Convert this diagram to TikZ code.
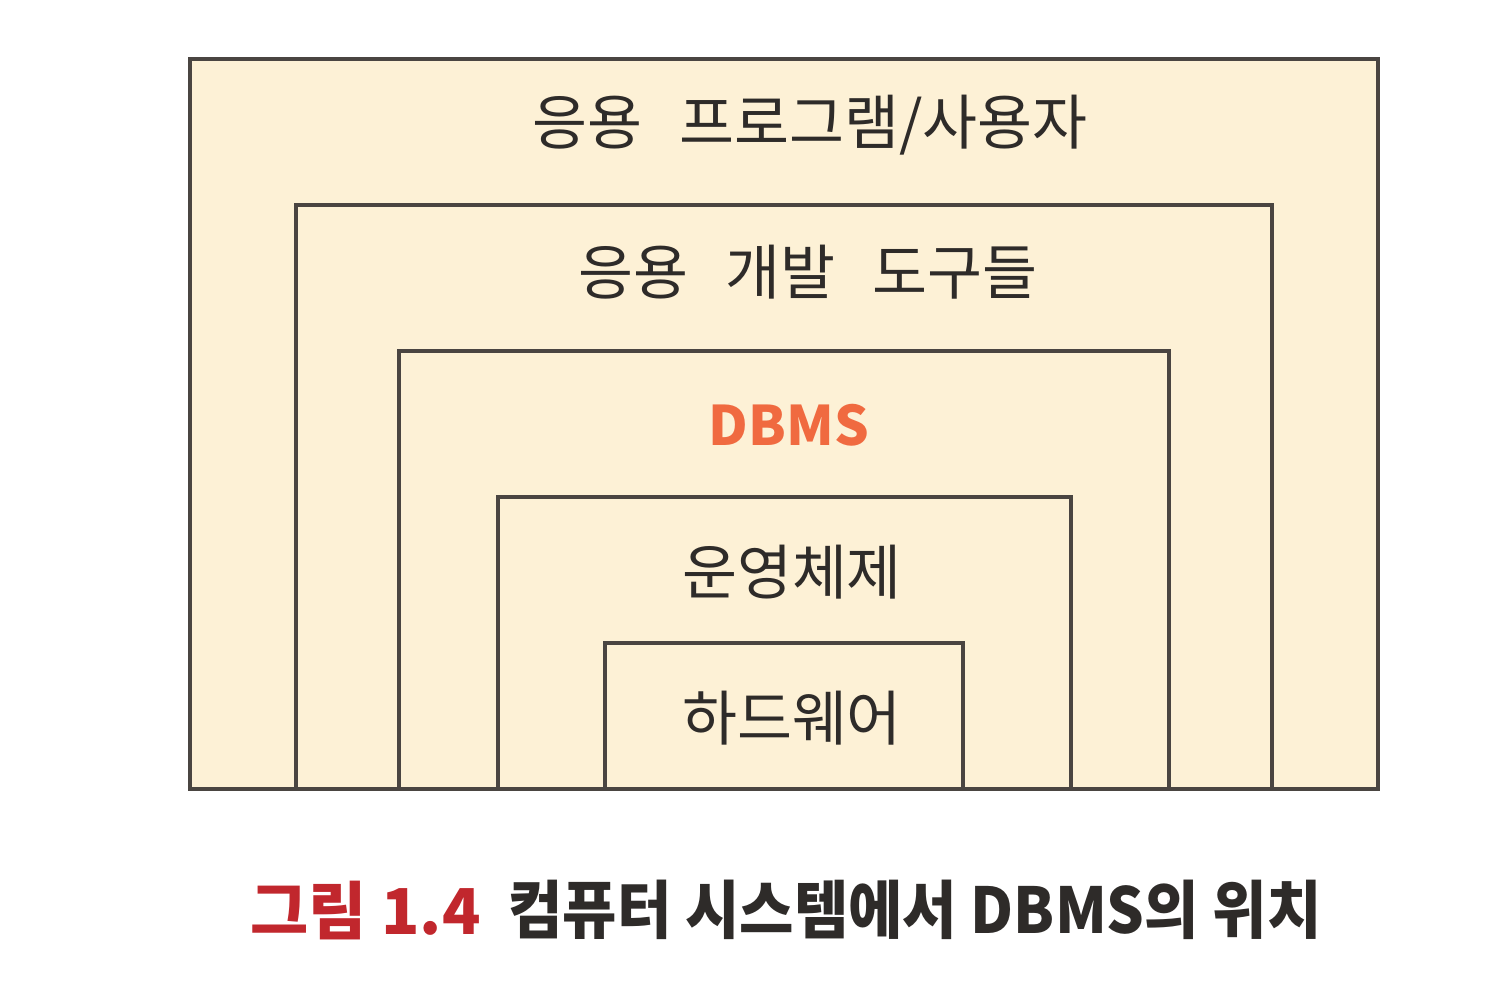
\documentclass[tikz,border=0pt]{standalone}
\usepackage{fontspec}
\newfontfamily\kr{Noto Sans CJK KR}
\newfontfamily\krcond[FakeStretch=0.935]{Noto Sans CJK KR}
\newcommand{\wgap}{\hspace{0.62em}}
\usepackage{xcolor}
\definecolor{lyfill}{HTML}{FDF1D6}
\definecolor{lyline}{HTML}{4A4541}
\definecolor{lyink}{HTML}{2E2B29}
\definecolor{lyorange}{HTML}{F06A40}
\definecolor{lyred}{HTML}{C1272D}
\usepackage{tikz}

\begin{document}
\begin{tikzpicture}[
      font=\kr,
      lay/.style={draw=lyline, line width=0.9pt},
      lbl/.style={font=\kr\fontsize{17}{20}\selectfont, text=lyink},
      captxt/.style={font=\kr\bfseries\fontsize{18}{21}\selectfont, anchor=west},
    ]
    \useasboundingbox (0,0) rectangle (15.02,9.8);

    % outer layer and the nested layers, all open at the bottom
    \fill[lyfill] (1.90,1.91) rectangle (13.78,9.21);
    \draw[lay] (1.90,1.91) rectangle (13.78,9.21);
    \draw[lay] (2.96,1.91) |- (12.72,7.75) -- (12.72,1.91);
    \draw[lay] (3.99,1.91) |- (11.69,6.29) -- (11.69,1.91);
    \draw[lay] (4.98,1.91) |- (10.71,4.83) -- (10.71,1.91);
    \draw[lay] (6.05,1.91) |- (9.63,3.37)  -- (9.63,1.91);

    \node[lbl] (app)  at (8.10,8.55) {응용\wgap 프로그램/사용자};
    \node[lbl] (tool) at (8.08,7.08) {응용\wgap 개발\wgap 도구들};
    \node[lbl, text=lyorange, font=\kr\bfseries\fontsize{15.5}{18}\selectfont]
          (dbms) at (7.89,5.55) {DBMS};
    \node[lbl] (os)   at (7.92,4.08) {운영체제};
    \node[lbl] (hw)   at (7.92,2.62) {하드웨어};

    % caption
    \node[captxt, text=lyred] (fig) at (2.38,0.70) {그림 1.4};
    \node[captxt, text=lyink, font=\krcond\bfseries\fontsize{18}{21}\selectfont]
          (title) at (4.96,0.70) {컴퓨터 시스템에서 DBMS의 위치};
\end{tikzpicture}
\end{document}
